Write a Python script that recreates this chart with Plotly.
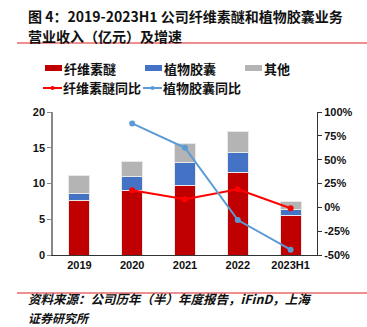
import plotly.graph_objects as go

categories = ["2019", "2020", "2021", "2022", "2023H1"]
cellulose_ether = [7.6, 9.0, 9.7, 11.55, 5.5]
plant_capsule = [1.07, 1.95, 3.2, 2.75, 0.93]
others = [2.43, 2.15, 2.7, 2.95, 1.12]
ce_yoy = [None, 17.9, 8.4, 18.9, -1.0]
pc_yoy = [None, 88.0, 62.5, -13.3, -44.4]
left_ticks = [0, 5, 10, 15, 20]
right_ticks = [-50, -25, 0, 25, 50, 75, 100]
right_labels = [f"{v}%" for v in right_ticks]

FONT = "Noto Sans CJK SC, Arial"
L, R, T, B, W, H = 53, 50, 112, 72, 367, 327
PW = W - L - R
PH = H - T - B


def px(x):
    return (x - L) / PW


def py(y):
    return (H - B - y) / PH


RED, BLUE, GRAY = "#C00000", "#4472C4", "#B4B4B4"
LRED, LBLUE = "#FF0000", "#5B9BD5"

fig = go.Figure()
fig.add_trace(go.Bar(x=categories, y=cellulose_ether, name="纤维素醚",
                     marker=dict(color=RED, line=dict(color="#E8E8E8", width=1))))
fig.add_trace(go.Bar(x=categories, y=plant_capsule, name="植物胶囊",
                     marker=dict(color=BLUE, line=dict(color="#E8E8E8", width=1))))
fig.add_trace(go.Bar(x=categories, y=others, name="其他",
                     marker=dict(color=GRAY, line=dict(color="#E8E8E8", width=1))))
fig.add_trace(go.Scatter(x=categories, y=ce_yoy, name="纤维素醚同比", yaxis="y2",
                         mode="lines+markers", line=dict(color=LRED, width=2),
                         marker=dict(size=6, color=LRED)))
fig.add_trace(go.Scatter(x=categories, y=pc_yoy, name="植物胶囊同比", yaxis="y2",
                         mode="lines+markers", line=dict(color=LBLUE, width=2),
                         marker=dict(size=6, color=LBLUE)))

fig.update_layout(
    width=W, height=H,
    margin=dict(l=L, r=R, t=T, b=B),
    paper_bgcolor="white", plot_bgcolor="white",
    barmode="stack", bargap=0.6,
    font=dict(family=FONT, size=11, color="#111111"),
    showlegend=False,
    xaxis=dict(showline=True, linecolor="#333333", linewidth=1, ticks="",
               tickfont=dict(family="Arial", size=11, weight="bold")),
    yaxis=dict(range=[0, 20], tickvals=left_ticks, showgrid=False, zeroline=False,
               showline=True, linecolor="#888888", linewidth=1.5, ticks="outside",
               ticklen=4, tickcolor="#888888",
               tickfont=dict(family="Arial", size=11, weight="bold")),
    yaxis2=dict(range=[-50, 100], tickmode="array", tickvals=right_ticks, ticktext=right_labels,
                overlaying="y", side="right", showgrid=False, zeroline=False, showline=True,
                linecolor="#333333", linewidth=1, ticks="outside", ticklen=4,
                tickcolor="#333333",
                tickfont=dict(family="Arial", size=11, weight="bold")),
)


def text(s, x, y, size, italic=False, yanchor="middle"):
    fig.add_annotation(text=f"<i>{s}</i>" if italic else s, xref="paper", yref="paper",
                       x=px(x), y=py(y), xanchor="left", yanchor=yanchor, showarrow=False,
                       align="left", borderpad=0,
                       font=dict(family=FONT, size=size, color="#111111", weight="bold"))


# Title
text("图 4：2019-2023H1 公司纤维素醚和植物胶囊业务", 27, 16, 14)
text("营业收入（亿元）及增速", 27, 36, 14)
# Source
text("资料来源：公司历年（半）年度报告，iFinD，上海", 27, 298.5, 12.5, italic=True)
text("证券研究所", 27, 327, 12, italic=True, yanchor="bottom")

# Red separator lines
for ypix in (43, 293):
    fig.add_shape(type="line", xref="paper", yref="paper", x0=px(17), x1=px(367),
                  y0=py(ypix), y1=py(ypix), line=dict(color="#E02020", width=1.2))

# Legend (manual)
for x0, color, label in ((45, RED, "纤维素醚"), (145, BLUE, "植物胶囊"), (245, GRAY, "其他")):
    fig.add_shape(type="rect", xref="paper", yref="paper", x0=px(x0), x1=px(x0 + 17),
                  y0=py(71), y1=py(65), fillcolor=color, line=dict(width=0))
    text(label, x0 + 18, 68, 13)
for x0, color, label in ((43, LRED, "纤维素醚同比"), (143, LBLUE, "植物胶囊同比")):
    fig.add_shape(type="line", xref="paper", yref="paper", x0=px(x0), x1=px(x0 + 19),
                  y0=py(88), y1=py(88), line=dict(color=color, width=2))
    fig.add_shape(type="circle", xref="paper", yref="paper", x0=px(x0 + 7.5), x1=px(x0 + 11.5),
                  y0=py(90), y1=py(86), fillcolor=color, line=dict(width=0))
    text(label, x0 + 19, 88, 13)

fig.write_html("out.html")
